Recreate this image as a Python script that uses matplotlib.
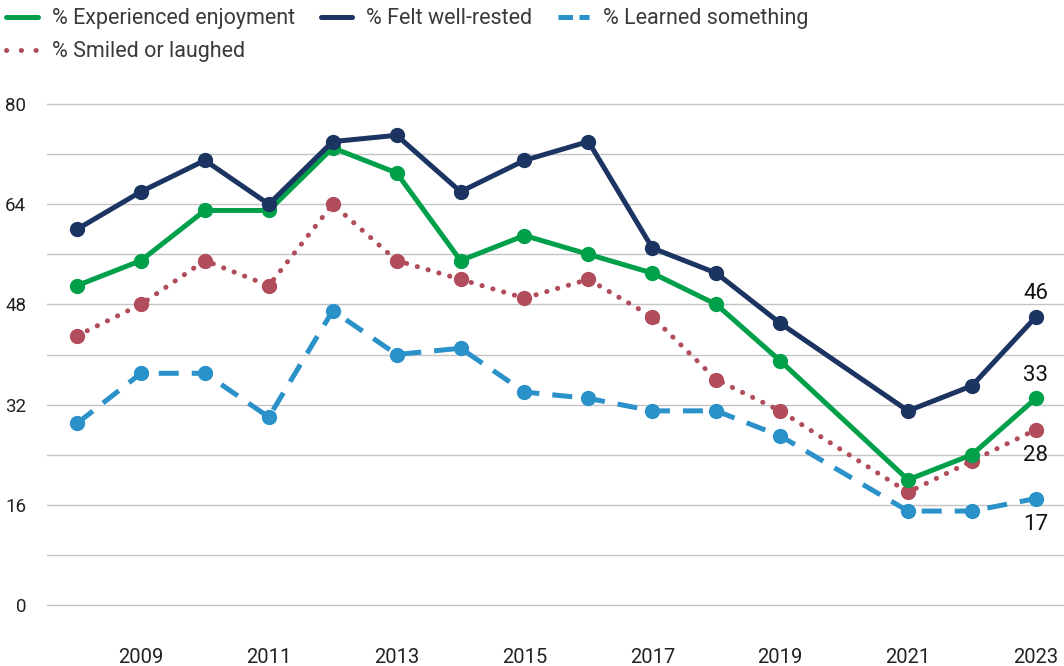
import matplotlib.pyplot as plt
import numpy as np

years = [2008, 2009, 2010, 2011, 2012, 2013, 2014, 2015, 2016, 2017, 2018, 2019, 2021, 2022, 2023]
enjoyment = [51, 55, 63, 63, 73, 69, 55, 59, 56, 53, 48, 39, 20, 24, 33]
well_rested = [60, 66, 71, 64, 74, 75, 66, 71, 74, 57, 53, 45, 31, 35, 46]
learned = [29, 37, 37, 30, 47, 40, 41, 34, 33, 31, 31, 27, 15, 15, 17]
smiled = [43, 48, 55, 51, 64, 55, 52, 49, 52, 46, 36, 31, 18, 23, 28]

x_ticks = [2009, 2011, 2013, 2015, 2017, 2019, 2021, 2023]
y_ticks = [0, 16, 32, 48, 64, 80]

GREEN = "#00A04B"
NAVY = "#1C3461"
BLUE = "#2A91C9"
RED = "#B14C5B"

plt.rcParams["font.family"] = ["Roboto", "DejaVu Sans"]

fig = plt.figure(figsize=(10.64, 6.66), dpi=100)
ax = fig.add_axes([47 / 1064, 61 / 666, 1017 / 1064, 501 / 666])

lw = 3.6
ms = 10
ax.plot(years, smiled, color=RED, lw=lw, ls=(0, (0.05, 2.2)), dash_capstyle="round",
        marker="o", ms=ms, zorder=3, clip_on=False)
ax.plot(years, learned, color=BLUE, lw=lw, ls=(0, (4, 2.6)),
        marker="o", ms=ms, zorder=3, clip_on=False)
ax.plot(years, enjoyment, color=GREEN, lw=lw, marker="o", ms=ms, zorder=4, clip_on=False)
ax.plot(years, well_rested, color=NAVY, lw=lw, marker="o", ms=ms, zorder=4, clip_on=False)

ax.set_xlim(2007.53, 2023.44)
ax.set_ylim(0, 80)
ax.set_xticks(x_ticks)
ax.set_yticks(y_ticks)
ax.set_yticks(np.arange(8, 80, 16), minor=True)
ax.grid(axis="y", which="both", color="#C4C4C4", lw=1)
for tick in ax.yaxis.get_major_ticks() + ax.yaxis.get_minor_ticks():
    tick.gridline.set_clip_on(False)
ax.set_axisbelow(True)
ax.tick_params(axis="both", which="both", length=0, colors="#222222")
ax.tick_params(axis="x", labelsize=14.5, pad=31)
ax.tick_params(axis="y", labelsize=13.5, pad=15)
for s in ax.spines.values():
    s.set_visible(False)

# end labels
last = years[-1]
for val, dy in [(well_rested[-1], 9), (enjoyment[-1], 9), (smiled[-1], -11), (learned[-1], -11)]:
    ax.annotate(str(val), (last, val), xytext=(0, dy), textcoords="offset points",
                ha="center", va="bottom" if dy > 0 else "top", fontsize=16, color="#111111")

leg_handles = [
    plt.Line2D([], [], color=GREEN, lw=lw, solid_capstyle="round"),
    plt.Line2D([], [], color=RED, lw=lw, ls=(0, (0.05, 2.9)), dash_capstyle="round"),
    plt.Line2D([], [], color=NAVY, lw=lw, solid_capstyle="round"),
    plt.Line2D([], [], color=BLUE, lw=lw, ls=(0, (2.9, 1.3))),
]
leg_labels = ["% Experienced enjoyment", "% Smiled or laughed",
              "% Felt well-rested", "% Learned something"]
leg = fig.legend(leg_handles, leg_labels, ncol=3, loc="upper left",
                 bbox_to_anchor=(0.0, 0.997), frameon=False, fontsize=15.5,
                 handlelength=1.45, handletextpad=0.65, columnspacing=1.2,
                 labelspacing=0.55, borderaxespad=0.1, borderpad=0.2)
for t in leg.get_texts():
    t.set_color("#3a3a3a")

fig.savefig("out.png", dpi=100)
